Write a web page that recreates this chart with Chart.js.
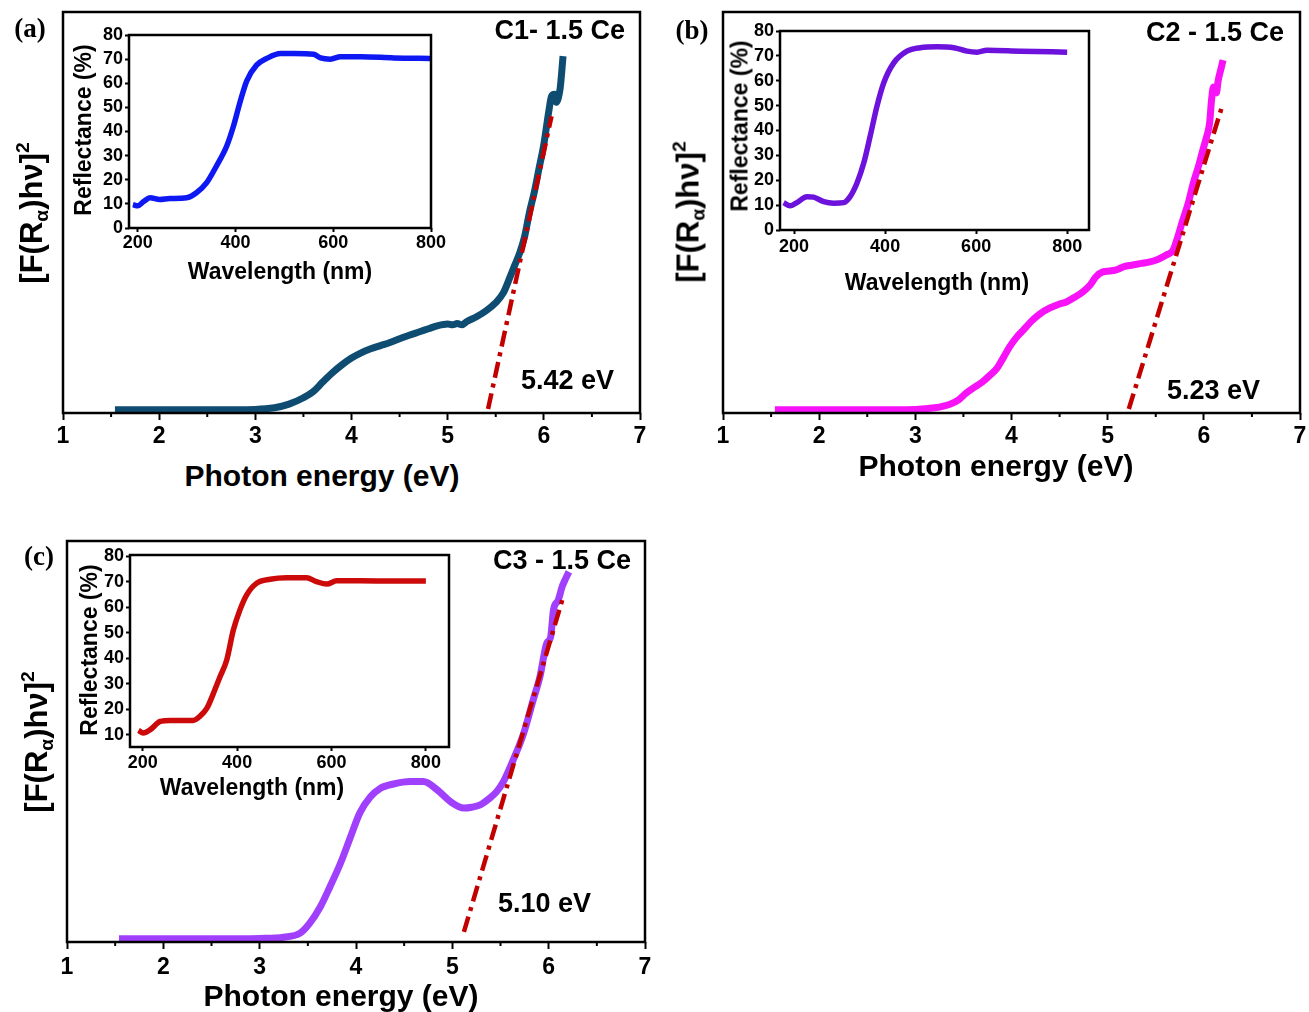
<!DOCTYPE html>
<html>
<head>
<meta charset="utf-8">
<script src="https://cdn.jsdelivr.net/npm/chart.js@4.4.1/dist/chart.umd.min.js"></script>
<style>
  body { margin: 0; background: #fff; }
  #page { position: relative; width: 1309px; height: 1012px; overflow: hidden; background: #fff;
          font-family: "Liberation Sans", Arial, sans-serif; font-weight: bold; color: #000; }
  canvas { position: absolute; }
  .txt { position: absolute; white-space: nowrap; line-height: 1; z-index: 5; }
  .c { transform: translate(-50%, -50%); }
  .l { transform: translateY(-50%); }
  .r { transform: translate(-100%, -50%); }
  .rot { transform: translate(-50%, -50%) rotate(-90deg); }
  .tag { font-family: "Liberation Serif", "Times New Roman", serif; font-size: 27px; }
  .name, .gap { font-size: 27px; }
  .xt { font-size: 30px; }
  .yt { font-size: 31px; }
  .yt .s { font-size: 0.62em; position: relative; top: 0.3em; }
  .yt .p { font-size: 0.62em; position: relative; top: -0.7em; }
  .it { font-size: 23px; }
</style>
</head>
<body>
<div id="page">
  <!-- panel a -->
  <div class="txt tag c" style="left:30px;top:28px">(a)</div>
  <div class="txt name r" style="left:625px;top:30px">C1- 1.5 Ce</div>
  <div class="txt gap l" style="left:521px;top:380px">5.42 eV</div>
  <div class="txt yt rot" style="left:31px;top:213px">[F(R<span class="s">α</span>)hν]<span class="p">2</span></div>
  <div class="txt xt c" style="left:322px;top:476px">Photon energy (eV)</div>
  <div class="txt it rot" style="left:83px;top:130px">Reflectance (%)</div>
  <div class="txt it c" style="left:280px;top:271px">Wavelength (nm)</div>

  <!-- panel b -->
  <div class="txt tag c" style="left:692px;top:30px">(b)</div>
  <div class="txt name r" style="left:1284px;top:32px">C2 - 1.5 Ce</div>
  <div class="txt gap l" style="left:1167px;top:390px">5.23 eV</div>
  <div class="txt yt rot" style="left:688px;top:212px">[F(R<span class="s">α</span>)hν]<span class="p">2</span></div>
  <div class="txt xt c" style="left:996px;top:466px">Photon energy (eV)</div>
  <div class="txt it rot" style="left:740px;top:126px">Reflectance (%)</div>
  <div class="txt it c" style="left:937px;top:282px">Wavelength (nm)</div>

  <!-- panel c -->
  <div class="txt tag c" style="left:39px;top:556px">(c)</div>
  <div class="txt name r" style="left:631px;top:560px">C3 - 1.5 Ce</div>
  <div class="txt gap l" style="left:498px;top:903px">5.10 eV</div>
  <div class="txt yt rot" style="left:36px;top:742px">[F(R<span class="s">α</span>)hν]<span class="p">2</span></div>
  <div class="txt xt c" style="left:341px;top:996px">Photon energy (eV)</div>
  <div class="txt it rot" style="left:89px;top:650px">Reflectance (%)</div>
  <div class="txt it c" style="left:252px;top:787px">Wavelength (nm)</div>
</div>

<script>
const FONT = '"Liberation Sans", Arial, sans-serif';

const energyTicks = [1, 2, 3, 4, 5, 6, 7];
const wavelengthTicks = [200, 400, 600, 800];
const reflTicksAB = [0, 10, 20, 30, 40, 50, 60, 70, 80];
const reflTicksC = [10, 20, 30, 40, 50, 60, 70, 80];

// C1 - 1.5 Ce  (main: [F(R)hv]^2 in arbitrary units, 0-100 of the frame)
const energyC1 = [1.54, 2.0, 2.5, 3.0, 3.2, 3.35, 3.5, 3.6, 3.7, 3.8, 3.9, 4.0, 4.1, 4.2, 4.3, 4.4, 4.5, 4.6, 4.7, 4.8,
                  4.9, 5.0, 5.05, 5.1, 5.15, 5.2, 5.3, 5.4, 5.5, 5.58, 5.65, 5.7, 5.75, 5.8, 5.85, 5.9, 5.95, 6.0, 6.05, 6.08,
                  6.11, 6.13, 6.15, 6.17, 6.2];
const kubelkaC1 = [0.8, 0.8, 0.8, 0.9, 1.3, 2.2, 3.8, 5.3, 7.7, 10, 12, 13.7, 15, 16, 16.8, 17.6, 18.5, 19.4, 20.2, 21,
                   21.8, 22.2, 22.0, 22.3, 22.0, 22.8, 24, 25.5, 27.5, 30, 34, 37, 40, 44, 50, 55, 61, 67, 75, 79,
                   79.5, 77.5, 78.5, 81, 89];
const tangentEnergyC1 = [5.42, 6.08];
const tangentKubelkaC1 = [1, 74];
const wavelengthC1 = [190, 200, 212, 225, 245, 265, 300, 320, 341, 361, 382, 396, 409, 423, 443, 464, 492, 519, 560, 574,
                      594, 615, 656, 724, 800];
const reflC1 = [9.7, 9.2, 11, 12.5, 11.8, 12.2, 12.5, 14.6, 18.8, 25.7, 34, 42.4, 52, 61, 67.5, 70.3, 72.3, 72.3, 72, 70.5,
                70, 71, 71, 70.5, 70.3];

// C2 - 1.5 Ce
const energyC2 = [1.54, 2.0, 2.5, 3.0, 3.2, 3.36, 3.45, 3.53, 3.6, 3.7, 3.78, 3.85, 3.92, 3.98, 4.05, 4.12, 4.22, 4.3, 4.4, 4.5,
                  4.57, 4.65, 4.74, 4.82, 4.88, 4.95, 5.02, 5.09, 5.17, 5.26, 5.35, 5.44, 5.52, 5.61, 5.68, 5.73, 5.78, 5.84, 5.89, 5.95,
                  5.99, 6.03, 6.06, 6.08, 6.1, 6.13, 6.15, 6.18, 6.2];
const kubelkaC2 = [0.8, 0.8, 0.8, 0.9, 1.3, 2.2, 3.3, 5, 6.2, 7.8, 9.5, 11.2, 14, 16.5, 18.8, 20.6, 23.2, 24.8, 26.2, 27.2,
                   27.7, 28.8, 30.2, 32, 34, 35.2, 35.4, 35.7, 36.5, 36.9, 37.3, 37.7, 38.3, 39.4, 40.6, 44, 48, 52.5, 57.3, 62,
                   65.6, 69, 72.3, 78, 81.3, 79.8, 83, 86, 88];
const tangentEnergyC2 = [5.22, 6.19];
const tangentKubelkaC2 = [1, 76.5];
const wavelengthC2 = [177, 191, 206, 228, 243, 265, 287, 309, 323, 338, 353, 367, 382, 397, 419, 448, 477, 514, 551, 580,
                      602, 624, 697, 800];
const reflC2 = [11, 9.7, 11, 13.4, 13.2, 11.4, 10.8, 11, 13.4, 18.8, 26.9, 37.6, 49.7, 59.2, 67.2, 71.9, 73.3, 73.7, 73.3, 71.9,
                71.5, 72.3, 71.9, 71.5];

// C3 - 1.5 Ce
const energyC3 = [1.54, 2.0, 2.5, 3.0, 3.25, 3.42, 3.52, 3.63, 3.73, 3.84, 3.94, 4.04, 4.15, 4.25, 4.39, 4.56, 4.70, 4.84, 4.98, 5.12,
                  5.2, 5.29, 5.39, 5.46, 5.53, 5.63, 5.74, 5.84, 5.91, 5.98, 6.02, 6.05, 6.10, 6.14, 6.17, 6.21];
const kubelkaC3 = [0.8, 0.8, 0.8, 0.9, 1.2, 2.2, 4.7, 8.8, 13.8, 19.7, 26, 32.2, 36.2, 38.3, 39.4, 40, 40, 38, 35, 33.4,
                   33.6, 34.2, 35.9, 37.5, 40, 45.3, 52, 60.4, 66.2, 74.5, 76, 82.8, 85.3, 88.6, 90.3, 92.3];
const tangentEnergyC3 = [5.12, 6.15];
const tangentKubelkaC3 = [2.5, 86];
const wavelengthC3 = [191, 201, 216, 237, 258, 307, 321, 336, 350, 364, 378, 392, 406, 420, 441, 470, 505, 547, 568, 590,
                      611, 660, 731, 800];
const reflC3 = [11.7, 10.7, 12, 15.2, 15.6, 15.6, 17.2, 20.4, 26.3, 32.8, 39.3, 51, 58.9, 64.7, 69.3, 70.9, 71.5, 71.5, 70, 69,
                70.3, 70.3, 70.2, 70.2];

const toPoints = (xs, ys) => xs.map((x, i) => ({ x: x, y: ys[i] }));

// black box round the plot area, plus the short half-unit ticks on the energy axis
const framePlugin = {
  id: 'frame',
  afterDraw(chart, args, opts) {
    const { ctx, chartArea: a } = chart;
    ctx.save();
    ctx.strokeStyle = '#000';
    ctx.lineWidth = opts.width;
    ctx.strokeRect(a.left, a.top, a.right - a.left, a.bottom - a.top);
    if (opts.minor) {
      const x = chart.scales.x;
      const t = x.ticks.map(k => k.value);
      ctx.lineWidth = 2;
      for (let i = 1; i < t.length; i++) {
        const px = x.getPixelForValue((t[i - 1] + t[i]) / 2);
        ctx.beginPath();
        ctx.moveTo(px, a.bottom);
        ctx.lineTo(px, a.bottom + opts.minor);
        ctx.stroke();
      }
    }
    ctx.restore();
  }
};

function addCanvas(box, m) {
  const c = document.createElement('canvas');
  c.width = box.r - box.l + m.l + m.r;
  c.height = box.b - box.t + m.t + m.b;
  c.style.left = (box.l - m.l) + 'px';
  c.style.top = (box.t - m.t) + 'px';
  document.getElementById('page').appendChild(c);
  return c;
}

const tickGrid = len => ({ drawOnChartArea: false, drawTicks: true, tickLength: len, tickWidth: 2, tickColor: '#000' });

function mainChart(box, xs, ys, color, tx, ty, labelPad) {
  const m = { l: 50, t: 10, r: 12, b: 45 };
  return new Chart(addCanvas(box, m), {
    type: 'line',
    data: {
      datasets: [
        { data: toPoints(tx, ty), borderColor: '#c30000', borderWidth: 4.5, borderDash: [16, 6, 4, 6],
          pointRadius: 0, order: 0 },
        { data: toPoints(xs, ys), borderColor: color, borderWidth: 7, pointRadius: 0,
          cubicInterpolationMode: 'monotone', order: 1 }
      ]
    },
    options: {
      responsive: false, animation: false, devicePixelRatio: 1,
      layout: { padding: { left: m.l, top: m.t, right: m.r, bottom: 0 } },
      plugins: { legend: { display: false }, tooltip: { enabled: false }, frame: { width: 2.5, minor: 4 } },
      scales: {
        x: {
          type: 'linear', min: 1, max: 7,
          afterBuildTicks: s => { s.ticks = energyTicks.map(v => ({ value: v })); },
          afterFit: s => { s.height = m.b; },
          grid: tickGrid(7), border: { display: false },
          ticks: { color: '#000', autoSkip: false, maxRotation: 0, padding: labelPad,
                   font: { family: FONT, size: 23, weight: 'bold', lineHeight: 1.2 } }
        },
        y: { display: false, min: 0, max: 100 }
      }
    },
    plugins: [framePlugin]
  });
}

function insetChart(box, xs, ys, color, xr, yr, yTicks, xPad) {
  const m = { l: 60, t: 16, r: 26, b: 40 };
  const font = { family: FONT, size: 18, weight: 'bold', lineHeight: 1 };
  return new Chart(addCanvas(box, m), {
    type: 'line',
    data: {
      datasets: [{ data: toPoints(xs, ys), borderColor: color, borderWidth: 5.5, pointRadius: 0,
                   cubicInterpolationMode: 'monotone' }]
    },
    options: {
      responsive: false, animation: false, devicePixelRatio: 1,
      layout: { padding: { left: 0, top: m.t, right: m.r, bottom: 0 } },
      plugins: { legend: { display: false }, tooltip: { enabled: false }, frame: { width: 2.5, minor: 0 } },
      scales: {
        x: {
          type: 'linear', min: xr[0], max: xr[1],
          afterBuildTicks: s => { s.ticks = wavelengthTicks.map(v => ({ value: v })); },
          afterFit: s => { s.height = m.b; },
          grid: tickGrid(4), border: { display: false },
          ticks: { color: '#000', autoSkip: false, maxRotation: 0, padding: xPad, font: font }
        },
        y: {
          min: yr[0], max: yr[1],
          afterBuildTicks: s => { s.ticks = yTicks.map(v => ({ value: v })); },
          afterFit: s => { s.width = m.l; },
          grid: tickGrid(4), border: { display: false },
          ticks: { color: '#000', autoSkip: false, padding: 2, font: font }
        }
      }
    },
    plugins: [framePlugin]
  });
}

mainChart({ l: 63, t: 12, r: 640, b: 413 }, energyC1, kubelkaC1, '#0f4c72', tangentEnergyC1, tangentKubelkaC1, 3);
insetChart({ l: 129, t: 35, r: 431, b: 228 }, wavelengthC1, reflC1, '#0d18f2', [182, 800], [0, 80], reflTicksAB, 2);

mainChart({ l: 723, t: 12, r: 1300, b: 413 }, energyC2, kubelkaC2, '#f812f8', tangentEnergyC2, tangentKubelkaC2, 3);
insetChart({ l: 780, t: 31, r: 1089, b: 230 }, wavelengthC2, reflC2, '#6c12dc', [169, 848], [0, 80], reflTicksAB, 4);

mainChart({ l: 67, t: 541, r: 645, b: 942 }, energyC3, kubelkaC3, '#a040fc', tangentEnergyC3, tangentKubelkaC3, 5);
insetChart({ l: 130, t: 555, r: 449, b: 747 }, wavelengthC3, reflC3, '#cc0a0a', [173, 849], [5.2, 80.4], reflTicksC, 3);
</script>
</body>
</html>
